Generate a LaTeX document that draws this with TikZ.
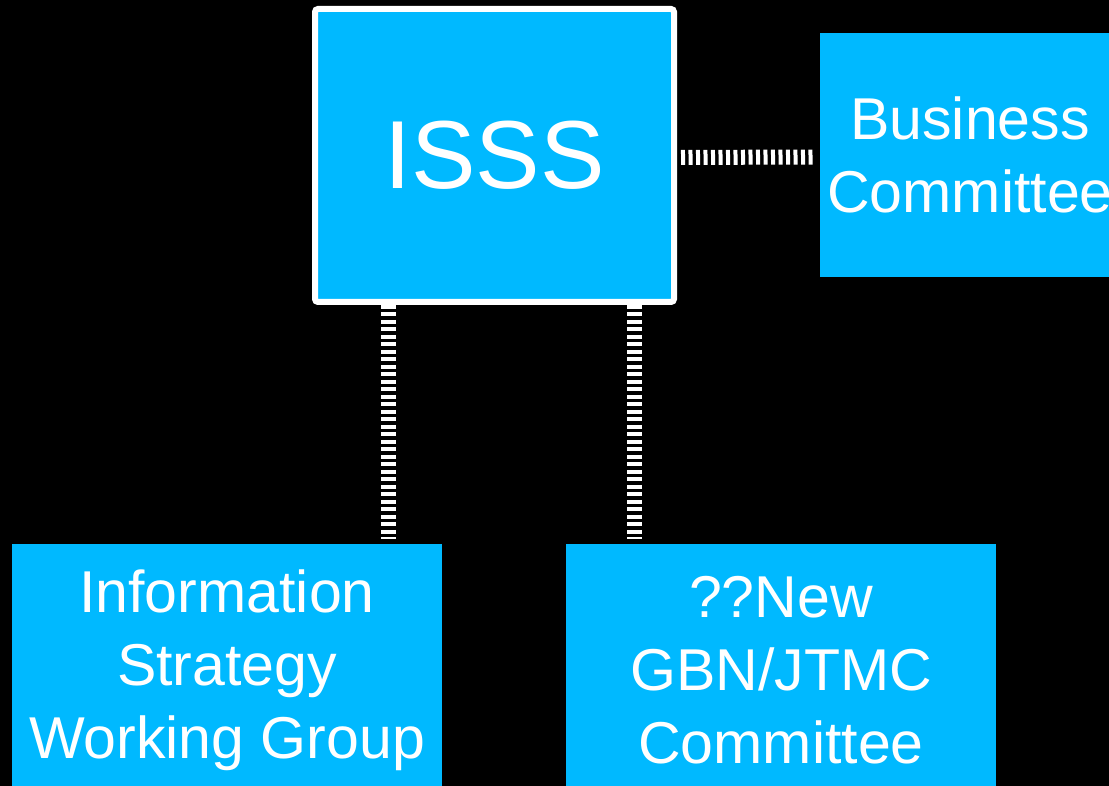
\documentclass[tikz,border=0pt]{standalone}
\usepackage{fontspec}
\setmainfont{Liberation Sans}
\definecolor{boxblue}{RGB}{0,185,255}

\tikzset{
  unit/.style={fill=boxblue, text=white, align=center, inner sep=0pt,
    font=\fontsize{16.8}{20.8}\selectfont},
  link/.style={draw=white, line width=0.15cm, dash pattern=on 0.04cm off 0.035cm}
}

\begin{document}
\begin{tikzpicture}
      \fill[black] (0,0) rectangle (11.09,7.86);
      \useasboundingbox (0,0) rectangle (11.09,7.86);
      \begin{scope}
      \clip (0,0) rectangle (11.09,7.86);
      \node[unit, draw=white, line width=0.06cm, rounded corners=0.03cm,
        minimum width=3.59cm, minimum height=2.93cm,
        font=\fontsize{27.5}{33}\selectfont] (isss) at (4.945, 6.305) {ISSS};
      \node[unit, minimum width=3.0cm, minimum height=2.44cm] (business) at (9.70, 6.31)
        {Business\\Committee};
      \node[unit, minimum width=4.30cm, minimum height=2.52cm] (iswg) at (2.27, 1.16)
        {Information\\Strategy\\Working Group};
      \node[unit, minimum width=4.30cm, minimum height=2.52cm] (gbn) at (7.81, 1.16)
        {??New\\GBN/JTMC\\Committee};
      \end{scope}
      \draw[link, shorten <=0.04cm, shorten >=0.04cm]
        ([yshift=-0.02cm]isss.east) -- ([yshift=-0.02cm]business.west);
      \coordinate (left) at ([xshift=0.76cm]isss.south west);
      \coordinate (right) at ([xshift=-0.43cm]isss.south east);
      \draw[link, shorten >=0.04cm] (left) -- (left |- iswg.north);
      \draw[link, shorten >=0.04cm] (right) -- (right |- gbn.north);
    \end{tikzpicture}
\end{document}
